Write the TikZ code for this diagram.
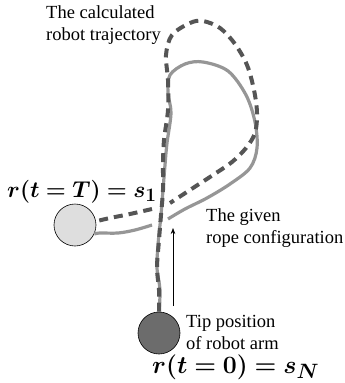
\documentclass[tikz,border=0pt]{standalone}
\usepackage{graphicx}
\usepackage[no-math]{fontspec}
\setmainfont{Liberation Serif}
\newfontfamily\lblfont{Liberation Serif}
\usepackage{bm}
\usetikzlibrary{arrows.meta}
\definecolor{ropegray}{RGB}{150,150,150}
\definecolor{trajgray}{RGB}{85,85,85}
\definecolor{lightball}{RGB}{222,222,222}
\definecolor{darkball}{RGB}{108,108,108}
\begin{document}
\begin{tikzpicture}[x=1pt,y=-1pt,
  rope/.style={draw=ropegray, line width=3.2pt},
  traj/.style={draw=trajgray, line width=4pt, dash pattern=on 9pt off 6pt},
  lbl/.style={font=\lblfont\fontsize{18.5}{22}\selectfont, align=left, inner sep=0pt},
  mlbl/.style={inner sep=0pt, font=\fontsize{24.88}{28}\selectfont},
  ball/.style={circle, draw=black, line width=0.6pt, minimum size=42pt, inner sep=0pt}]
\useasboundingbox (0,0) rectangle (345,383);

% balls
\node[ball, fill=lightball] (s1) at (75,225) {};
\node[ball, fill=darkball] (sN) at (159,333) {};

% rope: left crossing piece
\draw[rope] plot[smooth, tension=0.6] coordinates {(152,225) (135,230) (118,233) (100,233) (s1.-25)};
% trajectory: left crossing piece
\draw[traj] plot[smooth, tension=0.6] coordinates {(152,209) (130,214) (110,218) (s1.10)};

% rope main
\draw[rope] plot[smooth, tension=0.55] coordinates {(sN.north) (160,290) (157,268) (158,245) (161,215) (163,190) (165,165) (167,143) (171,113) (168,93) (170,75) (185,64) (203,62) (228,71) (246,95) (255,122) (257,148) (250,168) (230,184) (207,198) (185,209) (168,219)};

% trajectory main
\draw[traj] plot[smooth, tension=0.55] coordinates {(sN.north) (159,290) (157,268) (159,240) (161,215) (163,190) (163,165) (164,140) (168,110) (168,80) (166,55) (172,35) (190,23) (203,21) (220,28) (235,44) (247,65) (254,90) (257,113) (255,133) (246,148) (232,162) (213,175) (193,188) (170,203)};

% arrow
\coordinate (arrS) at (173,306);
\coordinate (arrE) at (173,228);
\draw[-{Stealth[length=6pt,width=4.5pt]}, line width=0.6pt] (arrS) -- (arrE);

% labels
\node[lbl, anchor=north west] (trajlbl) at (46,5.5) {The calculated\\robot trajectory};
\node[lbl, anchor=north west] (ropelbl) at (206,208) {The given\\rope configuration};
\node[lbl, anchor=north west] (tiplbl) at (186,315) {Tip position\\of robot arm};
\node[mlbl, anchor=base west] (s1lbl) at (7,197) {\scalebox{0.92}{$\bm{r(t=T)=s_1}$}};
\node[mlbl, anchor=base west] (sNlbl) at (152,373) {$\bm{r(t=0)=s_N}$};
\end{tikzpicture}
\end{document}
